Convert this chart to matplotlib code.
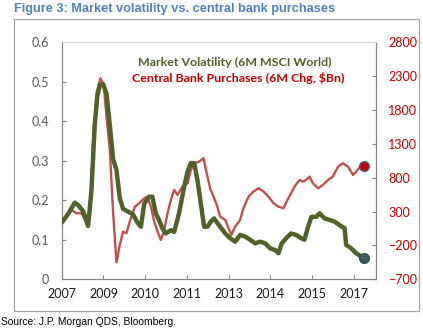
"""
Market volatility vs. central bank purchases (dual axis line chart)
"""

import numpy as np
import matplotlib
matplotlib.use("Agg")
import matplotlib.pyplot as plt

# market volatility, 6M MSCI World (left axis), x in decimal years
vol_year = [2007.65, 2007.85, 2008.07, 2008.18, 2008.35, 2008.51, 2008.62, 2008.73,
            2008.82, 2008.90, 2009.01, 2009.12, 2009.23, 2009.34, 2009.45, 2009.56,
            2009.67, 2009.84, 2010.00, 2010.14, 2010.26, 2010.37, 2010.53, 2010.64,
            2010.75, 2010.86, 2010.97, 2011.08, 2011.25, 2011.36, 2011.52, 2011.69,
            2011.80, 2011.91, 2012.02, 2012.13, 2012.24, 2012.35, 2012.46, 2012.57,
            2012.68, 2012.88, 2013.05, 2013.21, 2013.38, 2013.54, 2013.71, 2013.87,
            2014.04, 2014.21, 2014.37, 2014.54, 2014.70, 2014.81, 2014.92, 2015.08,
            2015.23, 2015.40, 2015.56, 2015.67, 2015.79, 2015.90, 2016.06, 2016.17,
            2016.34, 2016.50, 2016.67, 2016.83, 2017.00, 2017.05, 2017.22, 2017.38,
            2017.55, 2017.63]
vol = [0.144, 0.165, 0.194, 0.188, 0.172, 0.135, 0.222, 0.39,
       0.466, 0.492, 0.494, 0.47, 0.39, 0.304, 0.277, 0.205,
       0.178, 0.171, 0.164, 0.144, 0.133, 0.192, 0.209, 0.209,
       0.167, 0.15, 0.129, 0.116, 0.124, 0.12, 0.167, 0.234,
       0.272, 0.294, 0.294, 0.251, 0.192, 0.133, 0.133, 0.146,
       0.154, 0.133, 0.116, 0.104, 0.095, 0.112, 0.108, 0.1,
       0.091, 0.095, 0.091, 0.078, 0.074, 0.066, 0.091, 0.105,
       0.116, 0.112, 0.104, 0.1, 0.133, 0.158, 0.158, 0.167,
       0.154, 0.15, 0.146, 0.137, 0.129, 0.087, 0.078, 0.066,
       0.057, 0.055]

# central bank purchases, 6M change in $bn (right axis)
cb_year = [2007.65, 2007.79, 2007.96, 2008.12, 2008.29, 2008.45, 2008.57, 2008.68,
           2008.79, 2008.92, 2009.03, 2009.12, 2009.23, 2009.34, 2009.45, 2009.56,
           2009.67, 2009.78, 2009.89, 2010.06, 2010.20, 2010.37, 2010.47, 2010.59,
           2010.70, 2010.81, 2010.92, 2011.03, 2011.14, 2011.25, 2011.36, 2011.47,
           2011.63, 2011.80, 2011.91, 2012.02, 2012.19, 2012.33, 2012.46, 2012.55,
           2012.68, 2012.77, 2012.88, 2013.05, 2013.16, 2013.25, 2013.38, 2013.54,
           2013.65, 2013.82, 2013.98, 2014.15, 2014.32, 2014.48, 2014.65, 2014.81,
           2014.98, 2015.08, 2015.23, 2015.34, 2015.51, 2015.62, 2015.73, 2015.84,
           2015.95, 2016.12, 2016.28, 2016.45, 2016.61, 2016.78, 2016.94, 2017.11,
           2017.28, 2017.38, 2017.52, 2017.64]
cb = [127, 250, 323, 275, 275, 151, 225, 1357,
      2047, 2269, 2170, 1702, 1210, 275, -450, -193,
      3, -21, 151, 372, 422, 496, 520, 372,
      151, 3, -120, 28, 275, 471, 619, 545,
      668, 717, 914, 1013, 1038, 1087, 816, 640,
      500, 397, 225, 176, 53, -46, 77, 176,
      349, 520, 594, 644, 594, 520, 422, 372,
      349, 450, 570, 668, 767, 742, 767, 816,
      717, 644, 693, 767, 816, 963, 1013, 963,
      840, 890, 963, 975]

tick_labels = ["2007", "2009", "2010", "2011", "2013", "2014", "2015", "2017"]

GREEN = "#4F6228"
RED = "#C0504D"
DARKRED = "#C00000"
GRID = "#868686"

fig = plt.figure(figsize=(4.23, 3.36), dpi=100)
ax = fig.add_axes([0.146, 0.169, 0.742, 0.705])
ax2 = ax.twinx()

# frame around chart
fig.add_artist(plt.Rectangle((14/423, 1-311/336), 405/423, 292/336,
                             transform=fig.transFigure, fill=False,
                             edgecolor="#A6A6A6", linewidth=0.9))

ax.plot(vol_year, vol, color=GREEN, linewidth=3.2, solid_capstyle="round", zorder=3)
ax.plot(vol_year[-1], vol[-1], "o", color="#3F6060", markeredgecolor="#2F4F5F",
        markersize=7, zorder=4)
ax.set_zorder(ax2.get_zorder() + 1)
ax.patch.set_visible(False)

ax2.plot(cb_year, cb, color=RED, linewidth=1.7)
ax2.plot(cb_year[-1], cb[-1], "o", color=DARKRED, markeredgecolor="#4F5F7F",
         markersize=7)

start, step = 2007.64, 1.381
ax.set_xlim(start, start + 7.52 * step)
ax.set_xticks([start + k * step for k in range(len(tick_labels))])
ax.set_xticklabels(tick_labels)

ax.set_ylim(0, 0.6)
ax.set_yticks(np.arange(0, 0.61, 0.1))
ax.set_yticklabels(["0", "0.1", "0.2", "0.3", "0.4", "0.5", "0.6"])
ax2.set_ylim(-700, 2800)
ax2.set_yticks(np.arange(-700, 2801, 500))

font = "Lato"
for lab in ax.get_xticklabels():
    lab.set_fontfamily(font)
    lab.set_fontsize(9)
    lab.set_color("#1A1A1A")
for lab in ax.get_yticklabels():
    lab.set_fontfamily(font)
    lab.set_fontsize(9)
    lab.set_color("#595959")
for lab in ax2.get_yticklabels():
    lab.set_fontfamily(font)
    lab.set_fontsize(9)
    lab.set_color(DARKRED)

ax.tick_params(axis="x", direction="in", length=3, color=GRID, pad=6)
ax.tick_params(axis="y", direction="in", length=3, color=GRID, pad=9)
ax2.tick_params(axis="y", direction="in", length=3, color=GRID, pad=9)

for a in (ax, ax2):
    for s in a.spines.values():
        s.set_color(GRID)
        s.set_linewidth(0.8)
    a.spines["top"].set_color("#D9D9D9")

ax.text(0.243, 0.9, "Market Volatility (6M MSCI World)", transform=ax.transAxes,
        color=GREEN, fontsize=8.9, fontweight="bold", family=font)
ax.text(0.224, 0.832, "Central Bank Purchases (6M Chg, $Bn)", transform=ax.transAxes,
        color=DARKRED, fontsize=8.9, fontweight="bold", family=font)

fig.text(14/423, 1-9/336, "Figure 3: Market volatility vs. central bank purchases",
         color="#4F81BD", fontsize=9.2, fontweight="bold",
         family="Liberation Sans", va="center")
fig.text(1/423, 1-322/336, "Source: J.P. Morgan QDS, Bloomberg.",
         color="#000000", fontsize=7.4, family="Liberation Sans", va="center")

fig.savefig("out.png", dpi=100)
